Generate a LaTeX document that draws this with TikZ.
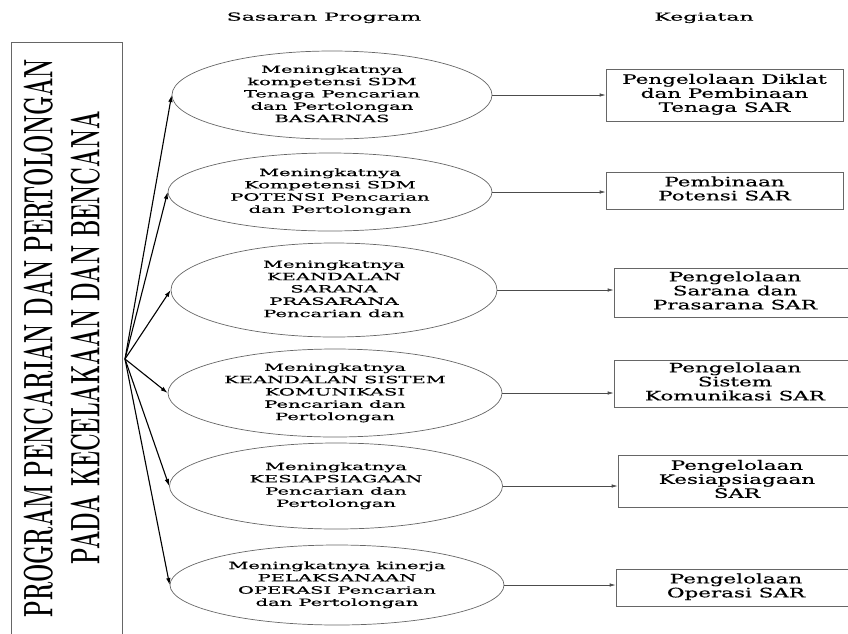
\documentclass[tikz,border=0pt]{standalone}
\usepackage{fontspec}
\usepackage{graphicx}
\usetikzlibrary{shapes.geometric,arrows.meta}
\setmainfont{DejaVu Serif}[FakeBold=0.4]
\newfontfamily\progfont{Latin Modern Roman}

% wide (horizontally stretched) centred text block: #1 stretch, #2 size, #3 skip, #4 lines
\newcommand\widetext[4]{\scalebox{#1}[1]{\fontsize{#2}{#3}\selectfont\begin{tabular}{@{}c@{}}#4\end{tabular}}}
\newcommand\goaltext[1]{\widetext{1.95}{10}{12.3}{#1}}
\newcommand\acttext[1]{\widetext{1.65}{13}{14}{#1}}
\newcommand\headtext[1]{\widetext{2.0}{11}{13}{#1}}

\begin{document}
\begin{tikzpicture}[x=1pt,y=-1pt,
  goal/.style={ellipse,draw=black!60,line width=0.7pt,inner sep=-30pt,text=black},
  act/.style={rectangle,draw=black!60,line width=0.7pt,inner sep=0pt,text=black},
  fan/.style={draw=black,line width=1.1pt,-{Latex[length=7pt,width=4.5pt]}},
  link/.style={draw=black!70,line width=0.7pt,-{Latex[length=6pt,width=3.5pt]}},
  head/.style={inner sep=0pt,text=black}]
\useasboundingbox (0,0) rectangle (848,633);
\clip (0,0) rectangle (848,633);

% program box with the rotated title
\node[draw=black!60,line width=0.8pt,rotate=90,minimum width=592pt,minimum height=111pt,inner sep=0pt]
  (prog) at (66.5,338)
  {\progfont\bfseries\fontsize{41}{47}\selectfont\scalebox{0.53}[1]{\begin{tabular}{@{}c@{}}PROGRAM PENCARIAN DAN PERTOLONGAN\\PADA KECELAKAAN DAN BENCANA\end{tabular}}};
\coordinate (hub) at (125,359);

% column headings
\node[head] (hgoal) at (324,18) {\headtext{Sasaran Program}};
\node[head] (hact) at (704,18) {\headtext{Kegiatan}};

% programme goals
\node[goal,minimum width=320pt,minimum height=88pt] (e1) at (332,95)
  {\goaltext{Meningkatnya\\kompetensi SDM\\Tenaga Pencarian\\dan Pertolongan\\BASARNAS}};
\node[goal,minimum width=324pt,minimum height=78pt] (e2) at (330,192)
  {\goaltext{Meningkatnya\\Kompetensi SDM\\POTENSI Pencarian\\dan Pertolongan}};
\node[goal,minimum width=326pt,minimum height=94pt] (e3) at (334,290)
  {\goaltext{Meningkatnya\\KEANDALAN\\SARANA\\PRASARANA\\Pencarian dan}};
\node[goal,minimum width=334pt,minimum height=88pt] (e4) at (335,393)
  {\goaltext{Meningkatnya\\KEANDALAN SISTEM\\KOMUNIKASI\\Pencarian dan\\Pertolongan}};
\node[goal,minimum width=333pt,minimum height=86pt] (e5) at (336,486)
  {\goaltext{Meningkatnya\\KESIAPSIAGAAN\\Pencarian dan\\Pertolongan}};
\node[goal,minimum width=334pt,minimum height=80pt] (e6) at (337,585)
  {\goaltext{Meningkatnya kinerja\\PELAKSANAAN\\OPERASI Pencarian\\dan Pertolongan}};

% activities
\node[act,minimum width=237pt,minimum height=52pt] (b1) at (724.5,95)
  {\acttext{Pengelolaan Diklat\\dan Pembinaan\\Tenaga SAR}};
\node[act,minimum width=237pt,minimum height=37pt] (b2) at (724.5,190.5)
  {\acttext{Pembinaan\\Potensi SAR}};
\node[act,minimum width=242pt,minimum height=49pt] (b3) at (735,292.5)
  {\acttext{Pengelolaan\\Sarana dan\\Prasarana SAR}};
\node[act,minimum width=242pt,minimum height=47pt] (b4) at (735,383.5)
  {\acttext{Pengelolaan\\Sistem\\Komunikasi SAR}};
\node[act,minimum width=238pt,minimum height=52pt] (b5) at (737,481)
  {\acttext{Pengelolaan\\Kesiapsiagaan\\SAR}};
\node[act,minimum width=240pt,minimum height=37pt] (b6) at (736,587.5)
  {\acttext{Pengelolaan\\Operasi SAR}};

% connectors
\foreach \i in {1,...,6}{
  \draw[fan] (hub) -- (e\i.west);
  \draw[link] (e\i.east) -- (e\i.east -| b\i.west);
}
\end{tikzpicture}
\end{document}
